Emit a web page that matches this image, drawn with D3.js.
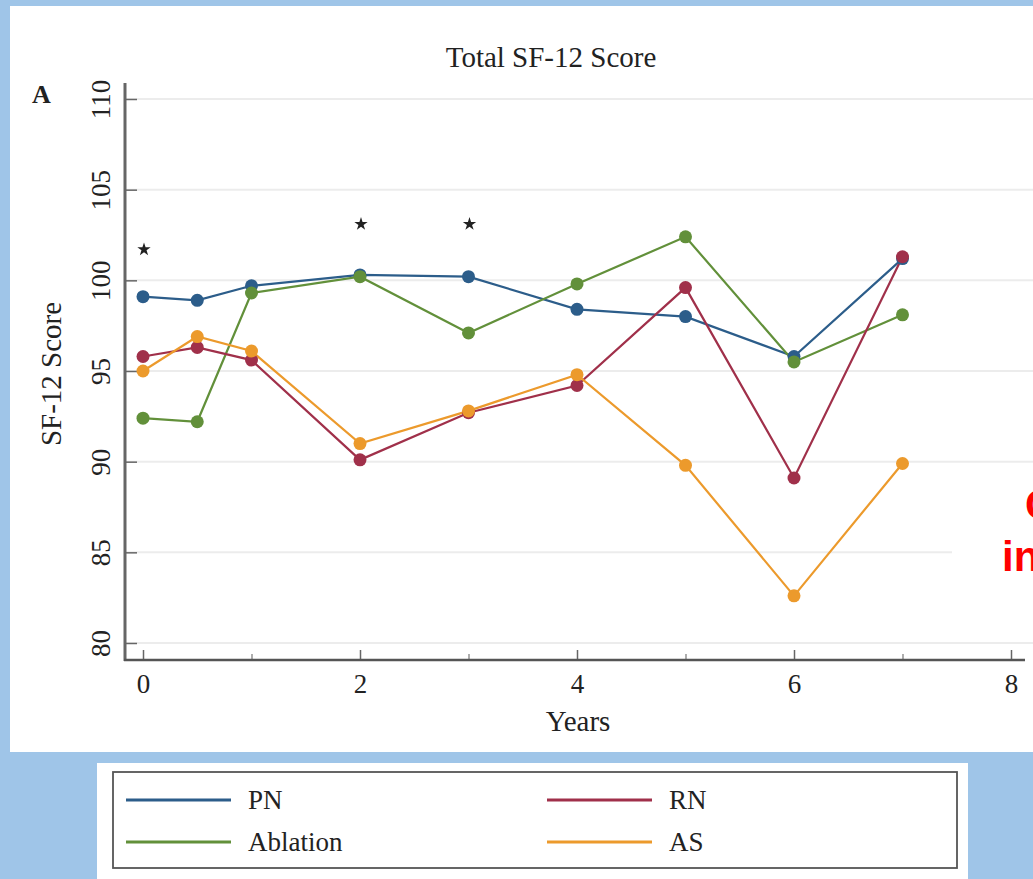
<!DOCTYPE html>
<html>
<head>
<meta charset="utf-8">
<script src="https://cdn.jsdelivr.net/npm/d3@7"></script>
<style>
  html, body { margin: 0; padding: 0; background: #9fc5e8; overflow: hidden; }
  svg { display: block; }
  text { font-family: "Liberation Serif", "DejaVu Serif", serif; fill: #222; }
</style>
</head>
<body>
<div id="chart"></div>
<script>
const W = 1033, H = 879;

const years = [0, 0.5, 1, 2, 3, 4, 5, 6, 7];
const pn =       [99.1, 98.9, 99.7, 100.3, 100.2, 98.4, 98.0, 95.8, 101.2];
const ablation = [92.4, 92.2, 99.3, 100.2, 97.1, 99.8, 102.4, 95.5, 98.1];
const rn =       [95.8, 96.3, 95.6, 90.1, 92.7, 94.2, 99.6, 89.1, 101.3];
const as =       [95.0, 96.9, 96.1, 91.0, 92.8, 94.8, 89.8, 82.6, 89.9];
const starYears = [0, 2, 3];
const starValues = [101.7, 103.1, 103.1];
const yTicks = [80, 85, 90, 95, 100, 105, 110];
const xMajor = [0, 2, 4, 6, 8];
const xMinor = [1, 3, 5, 7];

const series = [
    { name: "PN", values: pn, color: "#2c5d8a" },
    { name: "Ablation", values: ablation, color: "#62903a" },
    { name: "RN", values: rn, color: "#a0304a" },
    { name: "AS", values: as, color: "#ec9a2c" }
];

const svg = d3.select("#chart").append("svg")
    .attr("width", W)
    .attr("height", H);

// white figure panel
svg.append("rect").attr("x", 10).attr("y", 6).attr("width", W).attr("height", 746).attr("fill", "#fff");

const x = d3.scaleLinear().domain([0, 8]).range([143, 1011]);
const y = d3.scaleLinear().domain([80, 110]).range([643, 99]);

// gridlines
svg.append("g").selectAll("line")
    .data(yTicks)
    .enter().append("line")
    .attr("x1", 125).attr("x2", W)
    .attr("y1", d => y(d)).attr("y2", d => y(d))
    .attr("stroke", "#ececec").attr("stroke-width", 2);

// box behind the red annotation
svg.append("rect").attr("x", 952).attr("y", 468).attr("width", 90).attr("height", 168).attr("fill", "#fff");
svg.append("text").attr("x", 1025).attr("y", 519)
    .style("font-family", "'Liberation Sans', Arial, sans-serif").style("font-weight", "bold")
    .style("font-size", "42px").style("fill", "#ff0000").text("C");
svg.append("text").attr("x", 1002).attr("y", 571)
    .style("font-family", "'Liberation Sans', Arial, sans-serif").style("font-weight", "bold")
    .style("font-size", "42px").style("fill", "#ff0000").text("in");

// y axis
const yAxis = svg.append("g")
    .attr("transform", "translate(125,0)")
    .call(d3.axisLeft(y).tickValues(yTicks).tickSize(-12));
yAxis.select(".domain").remove();
yAxis.selectAll(".tick line").attr("stroke", "#666").attr("stroke-width", 1.5);
yAxis.selectAll(".tick text")
    .attr("x", null).attr("dy", null)
    .attr("text-anchor", "middle")
    .attr("transform", "translate(-15,0) rotate(-90)")
    .style("font-family", "'Liberation Serif', serif")
    .style("font-size", "27px").style("fill", "#222");

// x axis
const xAxis = svg.append("g")
    .attr("transform", "translate(0,660)")
    .call(d3.axisBottom(x).tickValues(xMajor).tickSize(-10).tickPadding(14));
xAxis.select(".domain").remove();
xAxis.selectAll(".tick line").attr("stroke", "#666").attr("stroke-width", 1.5);
xAxis.selectAll(".tick text")
    .style("font-family", "'Liberation Serif', serif")
    .style("font-size", "27px").style("fill", "#222");

const xMinorAxis = svg.append("g")
    .attr("transform", "translate(0,660)")
    .call(d3.axisBottom(x).tickValues(xMinor).tickSize(-6).tickFormat(""));
xMinorAxis.select(".domain").remove();
xMinorAxis.selectAll(".tick line").attr("stroke", "#777").attr("stroke-width", 1.2);

// axis lines
svg.append("line").attr("x1", 125).attr("x2", 125).attr("y1", 83).attr("y2", 661)
    .attr("stroke", "#666").attr("stroke-width", 3);
svg.append("line").attr("x1", 124).attr("x2", 1025).attr("y1", 660).attr("y2", 660)
    .attr("stroke", "#555").attr("stroke-width", 2.5);

// labels
svg.append("text").attr("x", 551).attr("y", 67).attr("text-anchor", "middle")
    .style("font-size", "29px").text("Total SF-12 Score");
svg.append("text").attr("x", 578).attr("y", 731).attr("text-anchor", "middle")
    .style("font-size", "29px").text("Years");
svg.append("text").attr("transform", "translate(61,374) rotate(-90)").attr("text-anchor", "middle")
    .style("font-size", "29px").text("SF-12 Score");
svg.append("text").attr("x", 32).attr("y", 103)
    .style("font-size", "26px").style("font-weight", "bold").text("A");

// lines and points
const line = d3.line()
    .x((d, i) => x(years[i]))
    .y(d => y(d));

series.forEach(s => {
    svg.append("path")
        .datum(s.values)
        .attr("fill", "none")
        .attr("stroke", s.color)
        .attr("stroke-width", 2.2)
        .attr("d", line);
});
series.forEach(s => {
    svg.append("g").selectAll("circle")
        .data(s.values)
        .enter().append("circle")
        .attr("cx", (d, i) => x(years[i]))
        .attr("cy", d => y(d))
        .attr("r", 6.5)
        .attr("fill", s.color);
});

// significance stars
svg.append("g").selectAll("path")
    .data(starValues)
    .enter().append("path")
    .attr("transform", (d, i) => `translate(${x(starYears[i]) + 1},${y(d)})`)
    .attr("d", d3.symbol().type(d3.symbolStar).size(55))
    .attr("fill", "#222");

// legend
svg.append("rect").attr("x", 97).attr("y", 763).attr("width", 871).attr("height", 130).attr("fill", "#fff");
svg.append("rect").attr("x", 113).attr("y", 772).attr("width", 844).attr("height", 96)
    .attr("fill", "none").attr("stroke", "#555").attr("stroke-width", 1.8);

const legendPos = [
    { lx: 126, ty: 800 },
    { lx: 126, ty: 842 },
    { lx: 547, ty: 800 },
    { lx: 547, ty: 842 }
];
series.forEach((s, i) => {
    const p = legendPos[i];
    svg.append("line")
        .attr("x1", p.lx).attr("x2", p.lx + 105)
        .attr("y1", p.ty).attr("y2", p.ty)
        .attr("stroke", s.color).attr("stroke-width", 3);
    svg.append("text")
        .attr("x", p.lx + 122).attr("y", p.ty + 9)
        .style("font-size", "27px")
        .text(s.name);
});
</script>
</body>
</html>
